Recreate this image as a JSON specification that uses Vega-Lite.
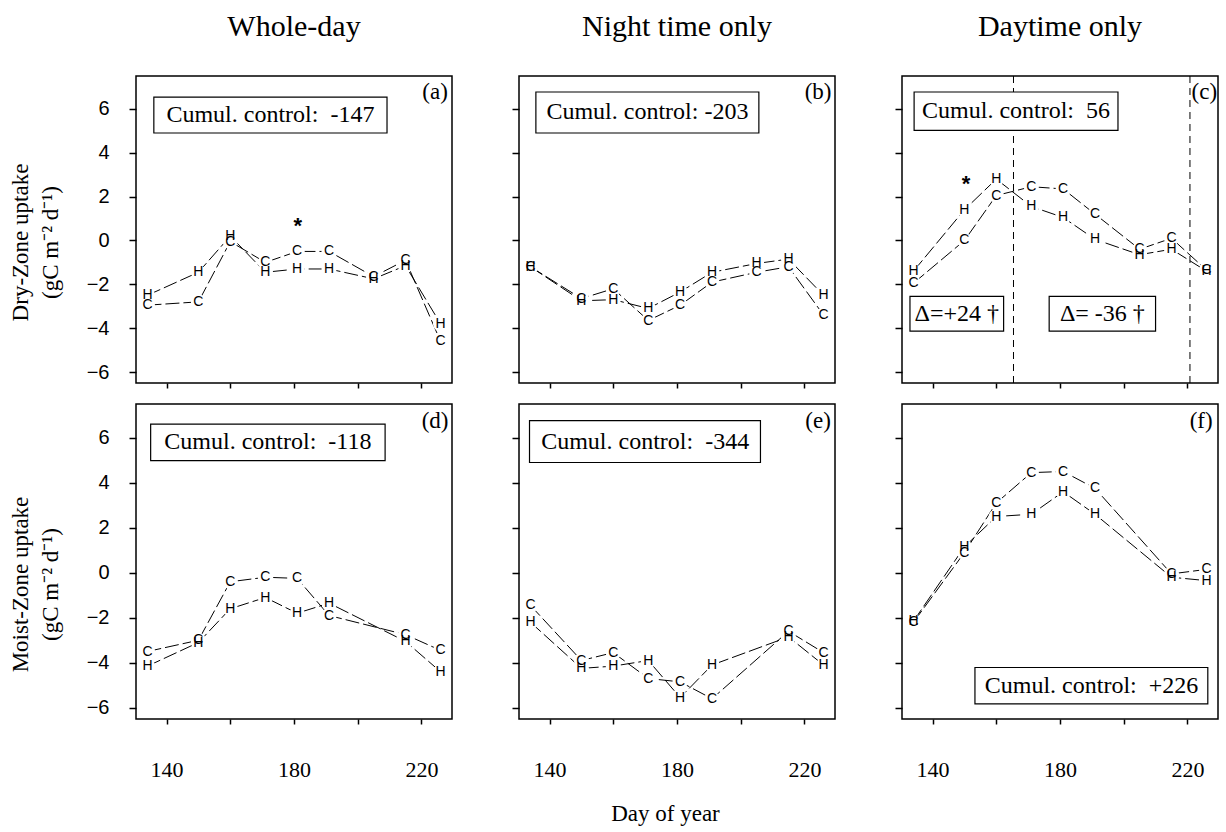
{
"$schema": "https://vega.github.io/schema/vega-lite/v6.json",
"padding": {"left": 8, "top": 10, "right": 2, "bottom": 2},
"background": "white",
"config": {
  "font": "Liberation Serif",
  "view": {"stroke": "black", "strokeWidth": 1.5},
  "axis": {"domain": false, "grid": false, "tickColor": "black", "tickWidth": 1.5, "labelColor": "black", "titleColor": "black", "titleFontWeight": "normal"}
},
"datasets": {
  "pts": [
    {"p":"a","s":"C","d":134,"v":-2.95},{"p":"a","s":"C","d":150,"v":-2.8},{"p":"a","s":"C","d":160,"v":-0.05},{"p":"a","s":"C","d":171,"v":-1.0},{"p":"a","s":"C","d":181,"v":-0.5},{"p":"a","s":"C","d":191,"v":-0.5},{"p":"a","s":"C","d":205,"v":-1.65},{"p":"a","s":"C","d":215,"v":-0.9},{"p":"a","s":"C","d":226,"v":-4.6},
    {"p":"a","s":"H","d":134,"v":-2.5},{"p":"a","s":"H","d":150,"v":-1.45},{"p":"a","s":"H","d":160,"v":0.2},{"p":"a","s":"H","d":171,"v":-1.45},{"p":"a","s":"H","d":181,"v":-1.3},{"p":"a","s":"H","d":191,"v":-1.3},{"p":"a","s":"H","d":205,"v":-1.75},{"p":"a","s":"H","d":215,"v":-1.15},{"p":"a","s":"H","d":226,"v":-3.8},
    {"p":"b","s":"C","d":134,"v":-1.2},{"p":"b","s":"C","d":150,"v":-2.65},{"p":"b","s":"C","d":160,"v":-2.2},{"p":"b","s":"C","d":171,"v":-3.65},{"p":"b","s":"C","d":181,"v":-2.95},{"p":"b","s":"C","d":191,"v":-1.9},{"p":"b","s":"C","d":205,"v":-1.45},{"p":"b","s":"C","d":215,"v":-1.2},{"p":"b","s":"C","d":226,"v":-3.4},
    {"p":"b","s":"H","d":134,"v":-1.2},{"p":"b","s":"H","d":150,"v":-2.75},{"p":"b","s":"H","d":160,"v":-2.7},{"p":"b","s":"H","d":171,"v":-3.1},{"p":"b","s":"H","d":181,"v":-2.35},{"p":"b","s":"H","d":191,"v":-1.45},{"p":"b","s":"H","d":205,"v":-1.05},{"p":"b","s":"H","d":215,"v":-0.85},{"p":"b","s":"H","d":226,"v":-2.5},
    {"p":"c","s":"C","d":134,"v":-1.95},{"p":"c","s":"C","d":150,"v":0.0},{"p":"c","s":"C","d":160,"v":2.05},{"p":"c","s":"C","d":171,"v":2.45},{"p":"c","s":"C","d":181,"v":2.35},{"p":"c","s":"C","d":191,"v":1.2},{"p":"c","s":"C","d":205,"v":-0.4},{"p":"c","s":"C","d":215,"v":0.1},{"p":"c","s":"C","d":226,"v":-1.35},
    {"p":"c","s":"H","d":134,"v":-1.4},{"p":"c","s":"H","d":150,"v":1.4},{"p":"c","s":"H","d":160,"v":2.8},{"p":"c","s":"H","d":171,"v":1.55},{"p":"c","s":"H","d":181,"v":1.05},{"p":"c","s":"H","d":191,"v":0.05},{"p":"c","s":"H","d":205,"v":-0.65},{"p":"c","s":"H","d":215,"v":-0.4},{"p":"c","s":"H","d":226,"v":-1.4},
    {"p":"d","s":"C","d":134,"v":-3.5},{"p":"d","s":"C","d":150,"v":-3.0},{"p":"d","s":"C","d":160,"v":-0.4},{"p":"d","s":"C","d":171,"v":-0.2},{"p":"d","s":"C","d":181,"v":-0.25},{"p":"d","s":"C","d":191,"v":-1.9},{"p":"d","s":"C","d":215,"v":-2.75},{"p":"d","s":"C","d":226,"v":-3.45},
    {"p":"d","s":"H","d":134,"v":-4.15},{"p":"d","s":"H","d":150,"v":-3.1},{"p":"d","s":"H","d":160,"v":-1.6},{"p":"d","s":"H","d":171,"v":-1.1},{"p":"d","s":"H","d":181,"v":-1.8},{"p":"d","s":"H","d":191,"v":-1.35},{"p":"d","s":"H","d":215,"v":-3.05},{"p":"d","s":"H","d":226,"v":-4.4},
    {"p":"e","s":"C","d":134,"v":-1.45},{"p":"e","s":"C","d":150,"v":-3.9},{"p":"e","s":"C","d":160,"v":-3.55},{"p":"e","s":"C","d":171,"v":-4.7},{"p":"e","s":"C","d":181,"v":-4.85},{"p":"e","s":"C","d":191,"v":-5.6},{"p":"e","s":"C","d":215,"v":-2.6},{"p":"e","s":"C","d":226,"v":-3.55},
    {"p":"e","s":"H","d":134,"v":-2.2},{"p":"e","s":"H","d":150,"v":-4.25},{"p":"e","s":"H","d":160,"v":-4.15},{"p":"e","s":"H","d":171,"v":-3.9},{"p":"e","s":"H","d":181,"v":-5.55},{"p":"e","s":"H","d":191,"v":-4.1},{"p":"e","s":"H","d":215,"v":-2.85},{"p":"e","s":"H","d":226,"v":-4.1},
    {"p":"f","s":"C","d":134,"v":-2.2},{"p":"f","s":"C","d":150,"v":0.9},{"p":"f","s":"C","d":160,"v":3.1},{"p":"f","s":"C","d":171,"v":4.45},{"p":"f","s":"C","d":181,"v":4.5},{"p":"f","s":"C","d":191,"v":3.75},{"p":"f","s":"C","d":215,"v":-0.05},{"p":"f","s":"C","d":226,"v":0.15},
    {"p":"f","s":"H","d":134,"v":-2.15},{"p":"f","s":"H","d":150,"v":1.15},{"p":"f","s":"H","d":160,"v":2.5},{"p":"f","s":"H","d":171,"v":2.6},{"p":"f","s":"H","d":181,"v":3.6},{"p":"f","s":"H","d":191,"v":2.6},{"p":"f","s":"H","d":215,"v":-0.2},{"p":"f","s":"H","d":226,"v":-0.35}
  ],
  "box": [
    {"p":"a","d1":136.0,"d2":209.2,"v1":4.9,"v2":6.54,"dm":172.6,"vm":5.72,"label":"Cumul. control:\u00a0 -147"},
    {"p":"b","d1":135.7,"d2":205.7,"v1":4.9,"v2":6.77,"dm":170.7,"vm":5.84,"label":"Cumul. control: -203"},
    {"p":"c","d1":134.2,"d2":198.2,"v1":5.02,"v2":6.77,"dm":166.2,"vm":5.9,"label":"Cumul. control:\u00a0 56"},
    {"p":"c","d1":132.9,"d2":162.3,"v1":-4.13,"v2":-2.55,"dm":147.6,"vm":-3.34,"label":"Δ=+24 †"},
    {"p":"c","d1":176.6,"d2":210.0,"v1":-4.13,"v2":-2.55,"dm":193.3,"vm":-3.34,"label":"Δ= -36 †"},
    {"p":"d","d1":135.0,"d2":208.6,"v1":4.98,"v2":6.61,"dm":171.8,"vm":5.8,"label":"Cumul. control:\u00a0 -118"},
    {"p":"e","d1":133.7,"d2":206.2,"v1":4.9,"v2":6.76,"dm":170.0,"vm":5.83,"label":"Cumul. control:\u00a0 -344"},
    {"p":"f","d1":153.3,"d2":226.4,"v1":-5.83,"v2":-4.21,"dm":189.9,"vm":-5.02,"label":"Cumul. control:\u00a0 +226"}
  ],
  "tag": [
    {"p":"a","d":224.3,"v":6.76,"label":"(a)"},
    {"p":"b","d":224.3,"v":6.76,"label":"(b)"},
    {"p":"c","d":225.3,"v":6.76,"label":"(c)"},
    {"p":"d","d":224.3,"v":6.76,"label":"(d)"},
    {"p":"e","d":224.3,"v":6.76,"label":"(e)"},
    {"p":"f","d":224.3,"v":6.76,"label":"(f)"}
  ],
  "star": [
    {"p":"a","d":181.2,"v":0.89},
    {"p":"c","d":150.5,"v":2.79}
  ],
  "vline": [
    {"p":"c","d":165.4},
    {"p":"c","d":220.8}
  ]
},
"vconcat": [
 {"hconcat": [
  {"width":316,"height":307,
   "title":{"text":"Whole-day","font":"Liberation Serif","fontSize":30,"fontWeight":"normal","color":"black","offset":34,"frame":"group","anchor":"middle"},
   "layer":[
    {"data":{"name":"pts"},"transform":[{"filter":"datum.p=='a'"}],"mark":{"type":"line","color":"black","strokeWidth":1,"strokeDash":[14,4]},
     "encoding":{"x":{"field":"d","type":"quantitative","scale":{"domain":[130.4,229.6],"nice":false,"zero":false},"axis":{"values":[140,160,180,200,220],"labels":false,"title":null,"tickSize":5}},
                 "y":{"field":"v","type":"quantitative","scale":{"domain":[-6.5,7.5],"nice":false,"zero":false},"axis":{"values":[-6,-4,-2,0,2,4,6],"tickSize":7,"labelPadding":20,"labelFont":"Liberation Sans","labelFontSize":20,"title":["Dry-Zone uptake","(gC m⁻² d⁻¹)"],"titleFont":"Liberation Serif","titleFontSize":23,"titleLineHeight":30,"titlePadding":24,"titleY":166}},
                 "detail":{"field":"s"}}},
    {"data":{"name":"pts"},"transform":[{"filter":"datum.p=='a'"}],"mark":{"type":"point","shape":"circle","filled":true,"color":"white","opacity":1,"strokeWidth":0,"size":230},
     "encoding":{"x":{"field":"d","type":"quantitative"},"y":{"field":"v","type":"quantitative"}}},
    {"mark":{"type":"rule","color":"black","strokeWidth":1},"encoding":{"y":{"datum":0,"type":"quantitative"}}},
    {"data":{"name":"pts"},"transform":[{"filter":"datum.p=='a'"}],"mark":{"type":"text","font":"Liberation Sans","fontSize":14,"baseline":"middle","align":"center","color":"black"},
     "encoding":{"x":{"field":"d","type":"quantitative"},"y":{"field":"v","type":"quantitative"},"text":{"field":"s"}}},
    {"data":{"name":"box"},"transform":[{"filter":"datum.p=='a'"}],"mark":{"type":"rect","fill":"white","stroke":"black","strokeWidth":1.2},
     "encoding":{"x":{"field":"d1","type":"quantitative"},"x2":{"field":"d2"},"y":{"field":"v1","type":"quantitative"},"y2":{"field":"v2"}}},
    {"data":{"name":"box"},"transform":[{"filter":"datum.p=='a'"}],"mark":{"type":"text","font":"Liberation Serif","fontSize":24,"baseline":"middle","align":"center","color":"black"},
     "encoding":{"x":{"field":"dm","type":"quantitative"},"y":{"field":"vm","type":"quantitative"},"text":{"field":"label"}}},
    {"data":{"name":"tag"},"transform":[{"filter":"datum.p=='a'"}],"mark":{"type":"text","font":"Liberation Serif","fontSize":23,"baseline":"middle","align":"center","color":"black"},
     "encoding":{"x":{"field":"d","type":"quantitative"},"y":{"field":"v","type":"quantitative"},"text":{"field":"label"}}},
    {"data":{"name":"star"},"transform":[{"filter":"datum.p=='a'"}],"mark":{"type":"text","font":"Liberation Sans","fontSize":22,"fontWeight":"bold","baseline":"middle","align":"center","dy":5,"color":"black","text":"*"},
     "encoding":{"x":{"field":"d","type":"quantitative"},"y":{"field":"v","type":"quantitative"}}}
   ]},
  {"width":316,"height":307,
   "title":{"text":"Night time only","font":"Liberation Serif","fontSize":30,"fontWeight":"normal","color":"black","offset":34,"frame":"group","anchor":"middle"},
   "layer":[
    {"data":{"name":"pts"},"transform":[{"filter":"datum.p=='b'"}],"mark":{"type":"line","color":"black","strokeWidth":1,"strokeDash":[14,4]},
     "encoding":{"x":{"field":"d","type":"quantitative","scale":{"domain":[130.4,229.6],"nice":false,"zero":false},"axis":{"values":[140,160,180,200,220],"labels":false,"title":null,"tickSize":5}},
                 "y":{"field":"v","type":"quantitative","scale":{"domain":[-6.5,7.5],"nice":false,"zero":false},"axis":{"values":[-6,-4,-2,0,2,4,6],"tickSize":7,"labels":false,"title":null}},
                 "detail":{"field":"s"}}},
    {"data":{"name":"pts"},"transform":[{"filter":"datum.p=='b'"}],"mark":{"type":"point","shape":"circle","filled":true,"color":"white","opacity":1,"strokeWidth":0,"size":230},
     "encoding":{"x":{"field":"d","type":"quantitative"},"y":{"field":"v","type":"quantitative"}}},
    {"mark":{"type":"rule","color":"black","strokeWidth":1},"encoding":{"y":{"datum":0,"type":"quantitative"}}},
    {"data":{"name":"pts"},"transform":[{"filter":"datum.p=='b'"}],"mark":{"type":"text","font":"Liberation Sans","fontSize":14,"baseline":"middle","align":"center","color":"black"},
     "encoding":{"x":{"field":"d","type":"quantitative"},"y":{"field":"v","type":"quantitative"},"text":{"field":"s"}}},
    {"data":{"name":"box"},"transform":[{"filter":"datum.p=='b'"}],"mark":{"type":"rect","fill":"white","stroke":"black","strokeWidth":1.2},
     "encoding":{"x":{"field":"d1","type":"quantitative"},"x2":{"field":"d2"},"y":{"field":"v1","type":"quantitative"},"y2":{"field":"v2"}}},
    {"data":{"name":"box"},"transform":[{"filter":"datum.p=='b'"}],"mark":{"type":"text","font":"Liberation Serif","fontSize":24,"baseline":"middle","align":"center","color":"black"},
     "encoding":{"x":{"field":"dm","type":"quantitative"},"y":{"field":"vm","type":"quantitative"},"text":{"field":"label"}}},
    {"data":{"name":"tag"},"transform":[{"filter":"datum.p=='b'"}],"mark":{"type":"text","font":"Liberation Serif","fontSize":23,"baseline":"middle","align":"center","color":"black"},
     "encoding":{"x":{"field":"d","type":"quantitative"},"y":{"field":"v","type":"quantitative"},"text":{"field":"label"}}}
   ]},
  {"width":316,"height":307,
   "title":{"text":"Daytime only","font":"Liberation Serif","fontSize":30,"fontWeight":"normal","color":"black","offset":34,"frame":"group","anchor":"middle"},
   "layer":[
    {"data":{"name":"pts"},"transform":[{"filter":"datum.p=='c'"}],"mark":{"type":"line","color":"black","strokeWidth":1,"strokeDash":[14,4]},
     "encoding":{"x":{"field":"d","type":"quantitative","scale":{"domain":[130.4,229.6],"nice":false,"zero":false},"axis":{"values":[140,160,180,200,220],"labels":false,"title":null,"tickSize":5}},
                 "y":{"field":"v","type":"quantitative","scale":{"domain":[-6.5,7.5],"nice":false,"zero":false},"axis":{"values":[-6,-4,-2,0,2,4,6],"tickSize":7,"labels":false,"title":null}},
                 "detail":{"field":"s"}}},
    {"data":{"name":"pts"},"transform":[{"filter":"datum.p=='c'"}],"mark":{"type":"point","shape":"circle","filled":true,"color":"white","opacity":1,"strokeWidth":0,"size":230},
     "encoding":{"x":{"field":"d","type":"quantitative"},"y":{"field":"v","type":"quantitative"}}},
    {"mark":{"type":"rule","color":"black","strokeWidth":1},"encoding":{"y":{"datum":0,"type":"quantitative"}}},
    {"data":{"name":"vline"},"mark":{"type":"rule","color":"black","strokeWidth":1,"strokeDash":[7,5]},"encoding":{"x":{"field":"d","type":"quantitative"}}},
    {"data":{"name":"pts"},"transform":[{"filter":"datum.p=='c'"}],"mark":{"type":"text","font":"Liberation Sans","fontSize":14,"baseline":"middle","align":"center","color":"black"},
     "encoding":{"x":{"field":"d","type":"quantitative"},"y":{"field":"v","type":"quantitative"},"text":{"field":"s"}}},
    {"data":{"name":"box"},"transform":[{"filter":"datum.p=='c'"}],"mark":{"type":"rect","fill":"white","stroke":"black","strokeWidth":1.2},
     "encoding":{"x":{"field":"d1","type":"quantitative"},"x2":{"field":"d2"},"y":{"field":"v1","type":"quantitative"},"y2":{"field":"v2"}}},
    {"data":{"name":"box"},"transform":[{"filter":"datum.p=='c'"}],"mark":{"type":"text","font":"Liberation Serif","fontSize":24,"baseline":"middle","align":"center","color":"black"},
     "encoding":{"x":{"field":"dm","type":"quantitative"},"y":{"field":"vm","type":"quantitative"},"text":{"field":"label"}}},
    {"data":{"name":"tag"},"transform":[{"filter":"datum.p=='c'"}],"mark":{"type":"text","font":"Liberation Serif","fontSize":23,"baseline":"middle","align":"center","color":"black"},
     "encoding":{"x":{"field":"d","type":"quantitative"},"y":{"field":"v","type":"quantitative"},"text":{"field":"label"}}},
    {"data":{"name":"star"},"transform":[{"filter":"datum.p=='c'"}],"mark":{"type":"text","font":"Liberation Sans","fontSize":22,"fontWeight":"bold","baseline":"middle","align":"center","dy":5,"color":"black","text":"*"},
     "encoding":{"x":{"field":"d","type":"quantitative"},"y":{"field":"v","type":"quantitative"}}}
   ]}
 ], "spacing": 57},
 {"hconcat": [
  {"width":316,"height":315,
   "layer":[
    {"data":{"name":"pts"},"transform":[{"filter":"datum.p=='d'"}],"mark":{"type":"line","color":"black","strokeWidth":1,"strokeDash":[14,4]},
     "encoding":{"x":{"field":"d","type":"quantitative","scale":{"domain":[130.4,229.6],"nice":false,"zero":false},"axis":{"values":[140,160,180,200,220],"labelExpr":"datum.value % 40 == 20 ? datum.label : ''","labelFont":"Liberation Serif","labelFontSize":22,"labelPadding":35,"title":null,"tickSize":5}},
                 "y":{"field":"v","type":"quantitative","scale":{"domain":[-6.5,7.5],"nice":false,"zero":false},"axis":{"values":[-6,-4,-2,0,2,4,6],"tickSize":7,"labelPadding":20,"labelFont":"Liberation Sans","labelFontSize":20,"title":["Moist-Zone uptake","(gC m⁻² d⁻¹)"],"titleFont":"Liberation Serif","titleFontSize":23,"titleLineHeight":30,"titlePadding":24,"titleY":180}},
                 "detail":{"field":"s"}}},
    {"data":{"name":"pts"},"transform":[{"filter":"datum.p=='d'"}],"mark":{"type":"point","shape":"circle","filled":true,"color":"white","opacity":1,"strokeWidth":0,"size":230},
     "encoding":{"x":{"field":"d","type":"quantitative"},"y":{"field":"v","type":"quantitative"}}},
    {"mark":{"type":"rule","color":"black","strokeWidth":1},"encoding":{"y":{"datum":0,"type":"quantitative"}}},
    {"data":{"name":"pts"},"transform":[{"filter":"datum.p=='d'"}],"mark":{"type":"text","font":"Liberation Sans","fontSize":14,"baseline":"middle","align":"center","color":"black"},
     "encoding":{"x":{"field":"d","type":"quantitative"},"y":{"field":"v","type":"quantitative"},"text":{"field":"s"}}},
    {"data":{"name":"box"},"transform":[{"filter":"datum.p=='d'"}],"mark":{"type":"rect","fill":"white","stroke":"black","strokeWidth":1.2},
     "encoding":{"x":{"field":"d1","type":"quantitative"},"x2":{"field":"d2"},"y":{"field":"v1","type":"quantitative"},"y2":{"field":"v2"}}},
    {"data":{"name":"box"},"transform":[{"filter":"datum.p=='d'"}],"mark":{"type":"text","font":"Liberation Serif","fontSize":24,"baseline":"middle","align":"center","color":"black"},
     "encoding":{"x":{"field":"dm","type":"quantitative"},"y":{"field":"vm","type":"quantitative"},"text":{"field":"label"}}},
    {"data":{"name":"tag"},"transform":[{"filter":"datum.p=='d'"}],"mark":{"type":"text","font":"Liberation Serif","fontSize":23,"baseline":"middle","align":"center","color":"black"},
     "encoding":{"x":{"field":"d","type":"quantitative"},"y":{"field":"v","type":"quantitative"},"text":{"field":"label"}}}
   ]},
  {"width":316,"height":315,
   "layer":[
    {"data":{"name":"pts"},"transform":[{"filter":"datum.p=='e'"}],"mark":{"type":"line","color":"black","strokeWidth":1,"strokeDash":[14,4]},
     "encoding":{"x":{"field":"d","type":"quantitative","scale":{"domain":[130.4,229.6],"nice":false,"zero":false},"axis":{"values":[140,160,180,200,220],"labelExpr":"datum.value % 40 == 20 ? datum.label : ''","labelFont":"Liberation Serif","labelFontSize":22,"labelPadding":35,"tickSize":5,"title":"Day of year","titleFont":"Liberation Serif","titleFontSize":23,"titlePadding":22,"titleX":146}},
                 "y":{"field":"v","type":"quantitative","scale":{"domain":[-6.5,7.5],"nice":false,"zero":false},"axis":{"values":[-6,-4,-2,0,2,4,6],"tickSize":7,"labels":false,"title":null}},
                 "detail":{"field":"s"}}},
    {"data":{"name":"pts"},"transform":[{"filter":"datum.p=='e'"}],"mark":{"type":"point","shape":"circle","filled":true,"color":"white","opacity":1,"strokeWidth":0,"size":230},
     "encoding":{"x":{"field":"d","type":"quantitative"},"y":{"field":"v","type":"quantitative"}}},
    {"mark":{"type":"rule","color":"black","strokeWidth":1},"encoding":{"y":{"datum":0,"type":"quantitative"}}},
    {"data":{"name":"pts"},"transform":[{"filter":"datum.p=='e'"}],"mark":{"type":"text","font":"Liberation Sans","fontSize":14,"baseline":"middle","align":"center","color":"black"},
     "encoding":{"x":{"field":"d","type":"quantitative"},"y":{"field":"v","type":"quantitative"},"text":{"field":"s"}}},
    {"data":{"name":"box"},"transform":[{"filter":"datum.p=='e'"}],"mark":{"type":"rect","fill":"white","stroke":"black","strokeWidth":1.2},
     "encoding":{"x":{"field":"d1","type":"quantitative"},"x2":{"field":"d2"},"y":{"field":"v1","type":"quantitative"},"y2":{"field":"v2"}}},
    {"data":{"name":"box"},"transform":[{"filter":"datum.p=='e'"}],"mark":{"type":"text","font":"Liberation Serif","fontSize":24,"baseline":"middle","align":"center","color":"black"},
     "encoding":{"x":{"field":"dm","type":"quantitative"},"y":{"field":"vm","type":"quantitative"},"text":{"field":"label"}}},
    {"data":{"name":"tag"},"transform":[{"filter":"datum.p=='e'"}],"mark":{"type":"text","font":"Liberation Serif","fontSize":23,"baseline":"middle","align":"center","color":"black"},
     "encoding":{"x":{"field":"d","type":"quantitative"},"y":{"field":"v","type":"quantitative"},"text":{"field":"label"}}}
   ]},
  {"width":316,"height":315,
   "layer":[
    {"data":{"name":"pts"},"transform":[{"filter":"datum.p=='f'"}],"mark":{"type":"line","color":"black","strokeWidth":1,"strokeDash":[14,4]},
     "encoding":{"x":{"field":"d","type":"quantitative","scale":{"domain":[130.4,229.6],"nice":false,"zero":false},"axis":{"values":[140,160,180,200,220],"labelExpr":"datum.value % 40 == 20 ? datum.label : ''","labelFont":"Liberation Serif","labelFontSize":22,"labelPadding":35,"title":null,"tickSize":5}},
                 "y":{"field":"v","type":"quantitative","scale":{"domain":[-6.5,7.5],"nice":false,"zero":false},"axis":{"values":[-6,-4,-2,0,2,4,6],"tickSize":7,"labels":false,"title":null}},
                 "detail":{"field":"s"}}},
    {"data":{"name":"pts"},"transform":[{"filter":"datum.p=='f'"}],"mark":{"type":"point","shape":"circle","filled":true,"color":"white","opacity":1,"strokeWidth":0,"size":230},
     "encoding":{"x":{"field":"d","type":"quantitative"},"y":{"field":"v","type":"quantitative"}}},
    {"mark":{"type":"rule","color":"black","strokeWidth":1},"encoding":{"y":{"datum":0,"type":"quantitative"}}},
    {"data":{"name":"pts"},"transform":[{"filter":"datum.p=='f'"}],"mark":{"type":"text","font":"Liberation Sans","fontSize":14,"baseline":"middle","align":"center","color":"black"},
     "encoding":{"x":{"field":"d","type":"quantitative"},"y":{"field":"v","type":"quantitative"},"text":{"field":"s"}}},
    {"data":{"name":"box"},"transform":[{"filter":"datum.p=='f'"}],"mark":{"type":"rect","fill":"white","stroke":"black","strokeWidth":1.2},
     "encoding":{"x":{"field":"d1","type":"quantitative"},"x2":{"field":"d2"},"y":{"field":"v1","type":"quantitative"},"y2":{"field":"v2"}}},
    {"data":{"name":"box"},"transform":[{"filter":"datum.p=='f'"}],"mark":{"type":"text","font":"Liberation Serif","fontSize":24,"baseline":"middle","align":"center","color":"black"},
     "encoding":{"x":{"field":"dm","type":"quantitative"},"y":{"field":"vm","type":"quantitative"},"text":{"field":"label"}}},
    {"data":{"name":"tag"},"transform":[{"filter":"datum.p=='f'"}],"mark":{"type":"text","font":"Liberation Serif","fontSize":23,"baseline":"middle","align":"center","color":"black"},
     "encoding":{"x":{"field":"d","type":"quantitative"},"y":{"field":"v","type":"quantitative"},"text":{"field":"label"}}}
   ]}
 ], "spacing": 57}
],
"spacing": 13
}
